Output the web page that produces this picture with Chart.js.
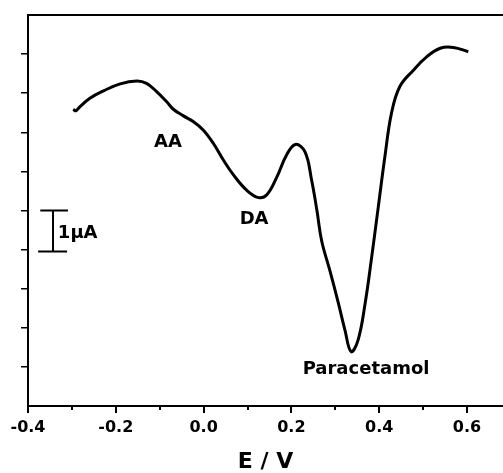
<!DOCTYPE html>
<html>
<head>
<meta charset="utf-8">
<script src="https://cdn.jsdelivr.net/npm/chart.js@4.4.1/dist/chart.umd.min.js"></script>
<style>
  html, body { margin: 0; padding: 0; background: #ffffff; }
  #wrap { width: 503px; height: 473px; position: relative; }
</style>
</head>
<body>
<div id="wrap"><canvas id="c" width="503" height="473"></canvas></div>
<script>
// Potential (V) and current (µA, arbitrary offset)
const potential = [-0.297, -0.291, -0.282, -0.259, -0.228, -0.190, -0.152, -0.130, -0.107, -0.084,
  -0.069, -0.046, -0.023, -0.001, 0.022, 0.045, 0.068, 0.098, 0.125, 0.144,
  0.167, 0.189, 0.209, 0.231, 0.246, 0.258, 0.269, 0.288, 0.307, 0.322,
  0.336, 0.352, 0.368, 0.383, 0.398, 0.413, 0.428, 0.447, 0.478, 0.508,
  0.539, 0.569, 0.603];
const current = [7.59, 7.55, 7.65, 7.87, 8.06, 8.24, 8.31, 8.25, 8.04, 7.78,
  7.59, 7.42, 7.27, 7.06, 6.72, 6.29, 5.91, 5.52, 5.33, 5.40,
  5.86, 6.42, 6.69, 6.50, 5.78, 5.01, 4.22, 3.45, 2.63, 1.94,
  1.39, 1.69, 2.63, 3.82, 5.10, 6.38, 7.49, 8.17, 8.59, 8.93,
  9.15, 9.17, 9.06];

// x tick labels (major) and minor tick positions
const xTickValues = [-0.4, -0.2, 0.0, 0.2, 0.4, 0.6];
const xMinorTicks = [-0.3, -0.1, 0.1, 0.3, 0.5];
const yTickValues = [1, 2, 3, 4, 5, 6, 7, 8, 9];

// Peak annotations (data coordinates)
const peakNames = ['AA', 'DA', 'Paracetamol'];
const peakLabelX = [-0.081, 0.115, 0.370];
const peakLabelY = [6.75, 4.78, 0.95];

// 1 µA scale bar (data coordinates)
const scaleBarX = [-0.372, -0.309, null, -0.343, -0.343, null, -0.377, -0.311];
const scaleBarY = [5.0, 5.0, null, 5.0, 3.95, null, 3.95, 3.95];
const scaleBarText = '1\u00b5A';
const scaleBarTextX = -0.332;
const scaleBarTextY = 4.42;

const FONT = '"DejaVu Sans", "Liberation Sans", Arial, sans-serif';

const curveData = potential.map((x, i) => ({ x: x, y: current[i] }));
const barData = scaleBarX.map((x, i) => (x === null ? { x: null, y: null } : { x: x, y: scaleBarY[i] }));

const decor = {
  id: 'decor',
  afterDatasetsDraw(chart) {
    const ctx = chart.ctx;
    const xs = chart.scales.x, ys = chart.scales.y;
    const a = chart.chartArea;
    ctx.save();
    // top frame line
    ctx.strokeStyle = '#000';
    ctx.lineWidth = 2;
    ctx.beginPath();
    ctx.moveTo(a.left - 1, a.top);
    ctx.lineTo(a.right, a.top);
    ctx.stroke();
    // minor x ticks
    ctx.lineWidth = 2;
    xMinorTicks.forEach(v => {
      const px = Math.round(xs.getPixelForValue(v));
      ctx.beginPath();
      ctx.moveTo(px, a.bottom);
      ctx.lineTo(px, a.bottom + 4);
      ctx.stroke();
    });
    // peak labels
    ctx.fillStyle = '#000';
    ctx.font = 'bold 18px ' + FONT;
    ctx.textAlign = 'center';
    ctx.textBaseline = 'middle';
    peakNames.forEach((t, i) => {
      ctx.fillText(t, xs.getPixelForValue(peakLabelX[i]), ys.getPixelForValue(peakLabelY[i]));
    });
    // scale bar text
    ctx.textAlign = 'left';
    ctx.font = 'bold 18px ' + FONT;
    ctx.fillText(scaleBarText, xs.getPixelForValue(scaleBarTextX), ys.getPixelForValue(scaleBarTextY));
    ctx.restore();
  }
};

new Chart(document.getElementById('c'), {
  type: 'line',
  data: {
    datasets: [
      {
        data: curveData,
        borderColor: '#000',
        borderWidth: 3,
        pointRadius: 0,
        fill: false,
        tension: 0.4,
        clip: false
      },
      {
        data: barData,
        borderColor: '#000',
        borderWidth: 2,
        pointRadius: 0,
        fill: false,
        tension: 0,
        spanGaps: false,
        clip: false
      }
    ]
  },
  options: {
    responsive: false,
    animation: false,
    events: [],
    layout: { padding: { top: 15, right: 0, left: 0, bottom: 0 } },
    plugins: { legend: { display: false }, tooltip: { enabled: false }, title: { display: false } },
    scales: {
      x: {
        type: 'linear',
        min: -0.4,
        max: 0.682,
        border: { display: true, color: '#000', width: 2 },
        grid: { drawOnChartArea: false, drawTicks: true, tickLength: 7, color: '#000', lineWidth: 2 },
        afterBuildTicks(scale) { scale.ticks = xTickValues.map(v => ({ value: v })); },
        afterFit(scale) { scale.height = 67; },
        ticks: {
          autoSkip: false,
          maxRotation: 0,
          padding: 5,
          color: '#000',
          font: { family: FONT, size: 16, weight: 'bold' },
          callback: v => Number(v).toFixed(1)
        },
        title: {
          display: true,
          text: 'E / V',
          color: '#000',
          font: { family: FONT, size: 22, weight: 'bold' },
          padding: { top: 0, bottom: -2 }
        }
      },
      y: {
        type: 'linear',
        min: 0,
        max: 10,
        position: 'left',
        border: { display: true, color: '#000', width: 2 },
        grid: { drawOnChartArea: false, drawTicks: true, tickLength: 7, color: '#000', lineWidth: 1.5 },
        afterBuildTicks(scale) { scale.ticks = yTickValues.map(v => ({ value: v })); },
        afterFit(scale) { scale.width = 28; },
        ticks: { display: false }
      }
    }
  },
  plugins: [decor]
});
</script>
</body>
</html>
